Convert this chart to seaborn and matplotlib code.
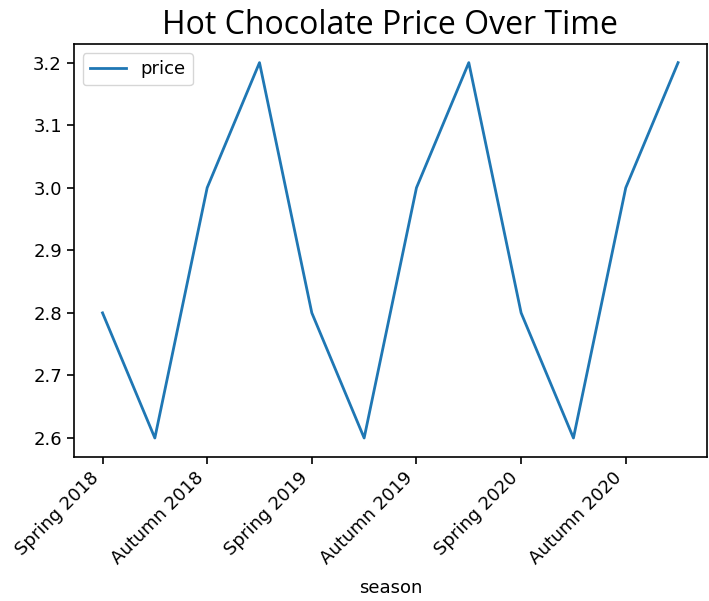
import numpy as np
import pandas as pd
import matplotlib
matplotlib.use("Agg")
import matplotlib.pyplot as plt
import seaborn as sns

# data
seasons = ["Spring 2018", "Summer 2018", "Autumn 2018", "Winter 2018",
           "Spring 2019", "Summer 2019", "Autumn 2019", "Winter 2019",
           "Spring 2020", "Summer 2020", "Autumn 2020", "Winter 2020"]
prices = [2.8, 2.6, 3.0, 3.2, 2.8, 2.6, 3.0, 3.2, 2.8, 2.6, 3.0, 3.2]
shown_ticks = ["Spring 2018", "Autumn 2018", "Spring 2019",
               "Autumn 2019", "Spring 2020", "Autumn 2020"]
yticks = [2.6, 2.7, 2.8, 2.9, 3.0, 3.1, 3.2]

df = pd.DataFrame({"season": seasons, "price": prices})

plt.rcParams['font.family'] = ['DejaVu Sans']

fig = plt.figure(figsize=(7.09, 6.01), dpi=100)
ax = fig.add_axes([0.104, 0.240, 0.893, 0.687])

sns.lineplot(data=df, x="season", y="price", label="price",
             color="#1f77b4", linewidth=2, sort=False, ax=ax)

fs = 13
ax.set_xticks([seasons.index(s) for s in shown_ticks])
ax.set_xticklabels(shown_ticks, rotation=45, ha='right', fontsize=fs)
ax.set_yticks(yticks)
ax.set_yticklabels([f'{v:.1f}' for v in yticks], fontsize=fs)
ax.tick_params(length=5, width=1.2)
ax.set_xlim(-0.55, 11.55)
ax.set_ylim(2.57, 3.23)
ax.set_xlabel("season", fontsize=fs, labelpad=8)
ax.set_ylabel("")
ax.set_title("Hot Chocolate Price Over Time", fontsize=23, pad=7,
             family=['Open Sans', 'DejaVu Sans'])
ax.legend(loc='upper left', fontsize=fs)

for sp in ax.spines.values():
    sp.set_linewidth(1.2)

fig.savefig("out.png", dpi=100)
